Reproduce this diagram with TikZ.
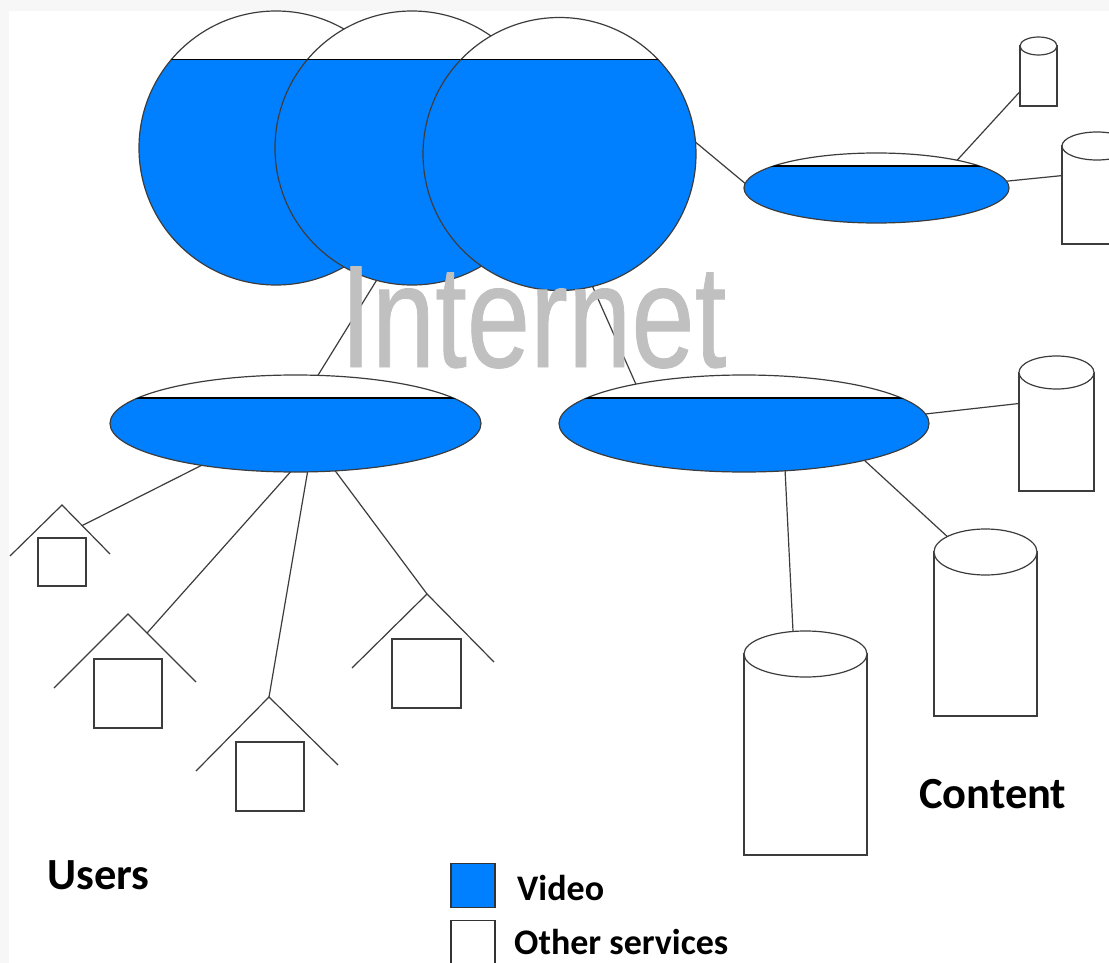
\documentclass[tikz,border=0pt]{standalone}
\usepackage{fontspec}
\setmainfont{Carlito}
\newfontfamily\inetfont[FakeBold=0.6]{Liberation Sans}
\usetikzlibrary{shapes.geometric,calc}
\definecolor{vblue}{RGB}{0,128,255}
\definecolor{lnk}{RGB}{60,60,60}
\definecolor{inet}{RGB}{192,192,192}
\tikzset{
  x=1pt,y=-1pt,
  lnkline/.style={draw=lnk,line width=1.2pt},
  hub/.style={shape=circle,draw=lnk,line width=1.2pt,inner sep=0pt,minimum size=#1,outer sep=0pt},
  oval/.style={shape=ellipse,draw=lnk,line width=1.2pt,inner sep=0pt,outer sep=0pt},
  body/.style={shape=rectangle,draw=lnk,line width=1.2pt,fill=white,inner sep=0pt,outer sep=0pt},
  homebox/.style={shape=rectangle,draw=lnk,line width=1.2pt,fill=white,inner sep=0pt,outer sep=0pt},
  lab/.style={inner sep=0pt,anchor=base west},
  keybox/.style={shape=rectangle,draw=black!80,line width=1.2pt,inner sep=0pt,minimum width=44pt,minimum height=44pt},
}
\begin{document}
\begin{tikzpicture}
\useasboundingbox (0,0) rectangle (1109,963);
\fill[white!97!black] (0,0) rectangle (1109,963);
\fill[white] (9,11) rectangle (1109,963);
\clip (0,0) rectangle (1109,963);

% hubs
\foreach \nm/\cx/\cy/\d in {c1/276/148/274, c2/412/148/274, c3/559.5/154/273}{
  \node[hub=\d pt,fill=white,path picture={\fill[vblue] (-1000,59.5-\cy) rectangle (1000,1000);}] (\nm) at (\cx,\cy) {};
  \begin{scope}
    \clip (\cx,\cy) circle[radius=\d/2];
    \draw[draw=black,line width=1.2pt] (0,59.5) -- (1109,59.5);
  \end{scope}
}

% ovals
\foreach \nm/\cx/\cy/\w/\h/\lv in {rt/876.5/188/265/70/166, le/295.5/423.5/371/97/398, re/744/423.5/370/97/398}{
  \node[oval,minimum width=\w pt,minimum height=\h pt,fill=white,path picture={\fill[vblue] (-1000,\lv-\cy) rectangle (1000,1000);}] (\nm) at (\cx,\cy) {};
  \begin{scope}
    \clip (\cx,\cy) ellipse[x radius=\w/2,y radius=\h/2];
    \draw[draw=black,line width=1.2pt] (0,\lv) -- (1109,\lv);
  \end{scope}
}

% cylinders: body box and top cap
\foreach \nm/\xa/\xb/\ya/\ry/\yb in {cyla/1020/1057/46/9/106, cylb/1062/1132/146/14/244, cylc/1019/1094/372.5/16.5/491, cyld/934/1037/552/23/716, cyle/744/867/654/23/855}{
  \node[body,minimum width=\xb pt-\xa pt,minimum height=\yb pt-\ya pt] (\nm) at ({(\xa+\xb)/2},{(\ya+\yb)/2}) {};
  \node[oval,fill=white,minimum width=\xb pt-\xa pt,minimum height=2*\ry pt] (\nm-top) at ({(\xa+\xb)/2},\ya) {};
}

% houses
\foreach \nm/\ax/\ay/\lx/\ly/\rx/\ry/\sxa/\sya/\sxb/\syb in {
  ha/62/505/10/556/110/554/38/538/86/586,
  hb/128/614/54/688/196/682/94/659/162/728,
  hc/269/697/196/771/338/765/236/742/304/811,
  hd/427/594/352/668/494/662/392/639/461/708}{
  \coordinate (\nm-apex) at (\ax,\ay);
  \coordinate (\nm-left) at (\lx,\ly);
  \coordinate (\nm-right) at (\rx,\ry);
  \draw[lnkline] (\nm-left) -- (\nm-apex) -- (\nm-right);
  \node[homebox,minimum width=\sxb pt-\sxa pt,minimum height=\syb pt-\sya pt] (\nm) at ({(\sxa+\sxb)/2},{(\sya+\syb)/2}) {};
}
\coordinate (haj) at ($(ha-apex)!.42!(ha-right)$);
\coordinate (hbj) at ($(hb-apex)!.28!(hb-right)$);

% connectors
\draw[lnkline] (c3.5.9) -- (rt.178.7);
\draw[lnkline] (rt.19.6) -- (cyla.220.9);
\draw[lnkline] (rt.3.1) -- (cylb.151.5);
\draw[lnkline] (le.65.6) -- (c2.-105.7);
\draw[lnkline] (re.160) -- (c3.-76.5);
\draw[lnkline] (le.-156) -- (haj);
\draw[lnkline] (le.-96.5) -- (hbj);
\draw[lnkline] (le.-76.7) -- (hc-apex);
\draw[lnkline] (le.-50.4) -- (hd-apex);
\draw[lnkline] (re.3) -- (cylc.143.5);
\draw[lnkline] (re.-17.2) -- (cyld-top.158.7);
\draw[lnkline] (re.-49.2) -- (cyle-top.119.6);

% watermark sits over everything near it
\node[font=\inetfont\fontsize{146}{146}\selectfont,text=inet,inner sep=0pt,anchor=base west,xscale=.78] (inetlabel) at (340,367) {Internet};

% labels
\node[lab,font=\bfseries\fontsize{44.5}{44.5}\selectfont] (users) at (47,889) {Users};
\node[lab,font=\bfseries\fontsize{44.5}{44.5}\selectfont] (content) at (919,808) {Content};
\node[keybox,fill=vblue] (keyv) at (473,885.5) {};
\node[keybox,fill=white] (keyo) at (473,942.5) {};
\node[lab,font=\bfseries\fontsize{36}{36}\selectfont] (vlab) at (517,900) {Video};
\node[lab,font=\bfseries\fontsize{36}{36}\selectfont] (olab) at (514,954) {Other services};
\end{tikzpicture}
\end{document}
